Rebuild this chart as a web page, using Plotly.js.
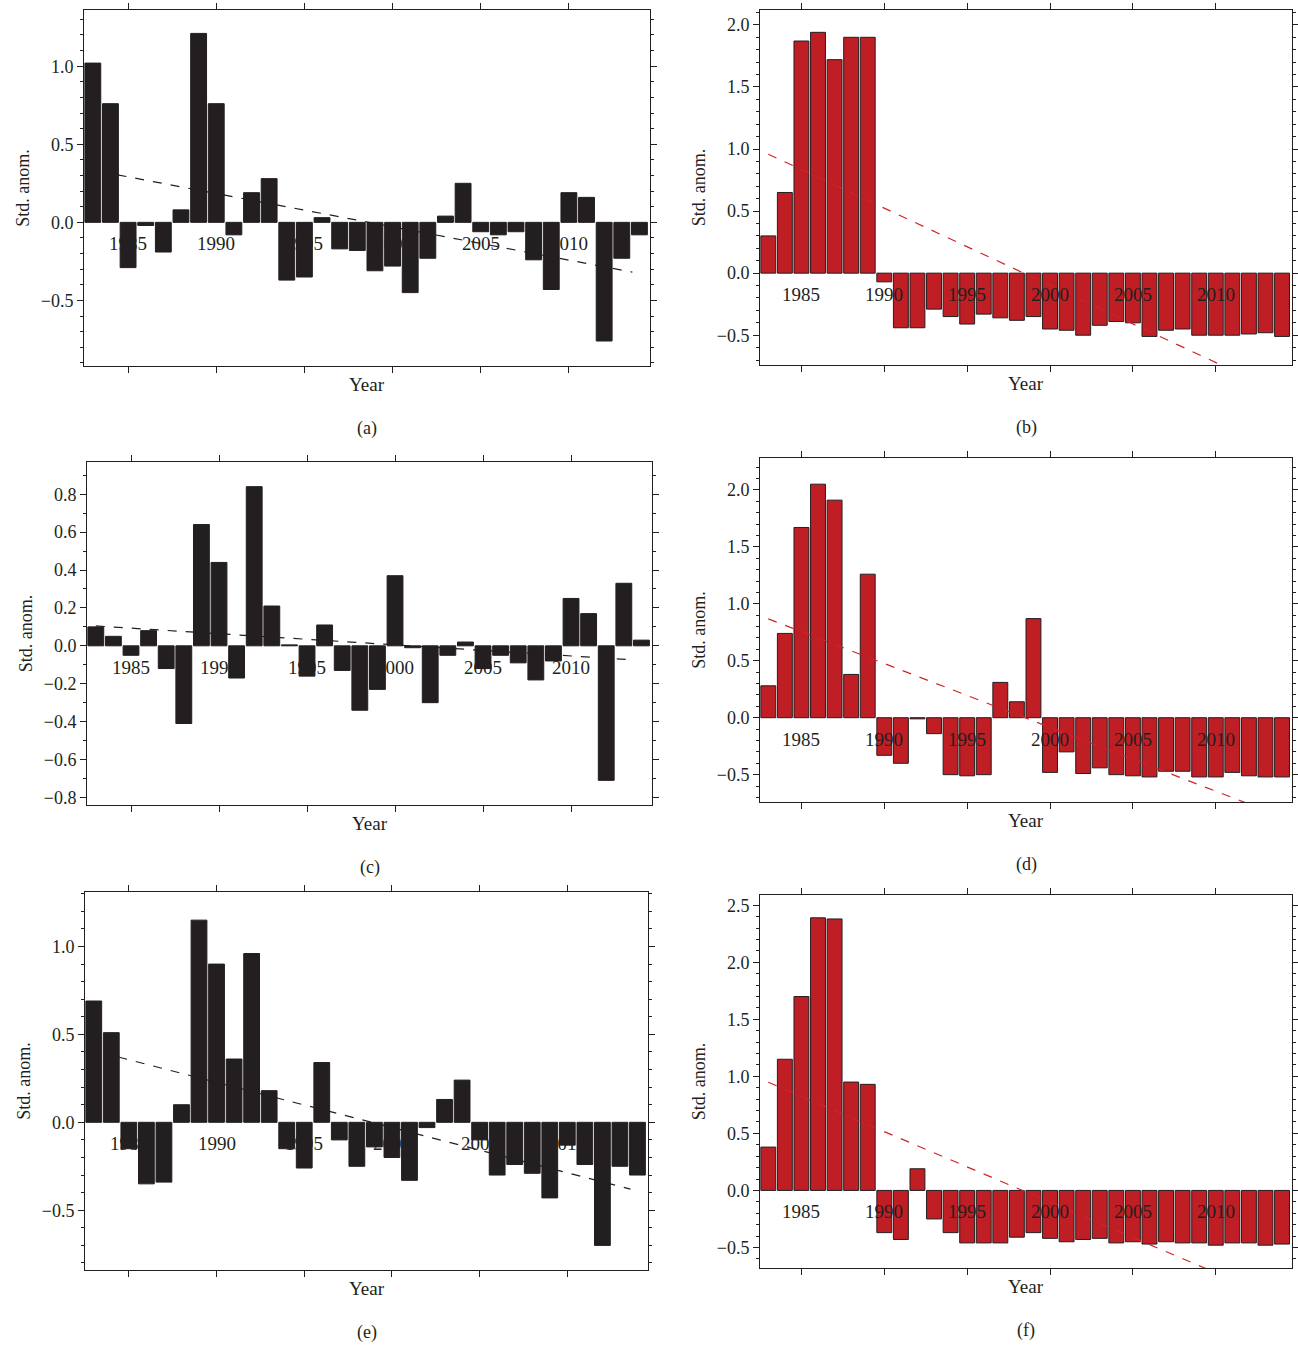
<!DOCTYPE html>
<html>
<head>
<meta charset="utf-8">
<script src="https://cdn.plot.ly/plotly-3.0.1.min.js"></script>
<style>body{margin:0;background:#fff}#chart{width:1298px;height:1346px}</style>
</head>
<body>
<div id="chart"></div>
<script>
// Standardized anomalies, 1983-2014, six panels
const years = Array.from({length: 32}, (_, i) => 1983 + i);
const yearTicks = [1985, 1990, 1995, 2000, 2005, 2010];

const seriesA = [1.02,0.76,-0.29,-0.02,-0.19,0.08,1.21,0.76,-0.08,0.19,0.28,-0.37,-0.35,0.03,-0.17,-0.18,
                 -0.31,-0.28,-0.45,-0.23,0.04,0.25,-0.06,-0.08,-0.06,-0.24,-0.43,0.19,0.16,-0.76,-0.23,-0.08];
const seriesB = [0.30,0.65,1.87,1.94,1.72,1.90,1.90,-0.07,-0.44,-0.44,-0.29,-0.35,-0.41,-0.33,-0.36,-0.38,
                 -0.35,-0.45,-0.46,-0.50,-0.42,-0.39,-0.40,-0.51,-0.46,-0.45,-0.50,-0.50,-0.50,-0.49,-0.48,-0.51];
const seriesC = [0.10,0.05,-0.05,0.08,-0.12,-0.41,0.64,0.44,-0.17,0.84,0.21,0.005,-0.16,0.11,-0.13,-0.34,
                 -0.23,0.37,-0.01,-0.30,-0.05,0.02,-0.12,-0.05,-0.09,-0.18,-0.08,0.25,0.17,-0.71,0.33,0.03];
const seriesD = [0.28,0.74,1.67,2.05,1.91,0.38,1.26,-0.33,-0.40,-0.01,-0.14,-0.50,-0.51,-0.50,0.31,0.14,
                 0.87,-0.48,-0.30,-0.49,-0.44,-0.50,-0.51,-0.52,-0.47,-0.47,-0.52,-0.52,-0.48,-0.51,-0.52,-0.52];
const seriesE = [0.69,0.51,-0.15,-0.35,-0.34,0.10,1.15,0.90,0.36,0.96,0.18,-0.15,-0.26,0.34,-0.10,-0.25,
                 -0.14,-0.20,-0.33,-0.03,0.13,0.24,-0.10,-0.30,-0.24,-0.29,-0.43,-0.13,-0.24,-0.70,-0.25,-0.30];
const seriesF = [0.38,1.15,1.70,2.39,2.38,0.95,0.93,-0.37,-0.43,0.19,-0.25,-0.37,-0.46,-0.46,-0.46,-0.41,
                 -0.37,-0.42,-0.45,-0.43,-0.42,-0.46,-0.45,-0.47,-0.45,-0.46,-0.46,-0.48,-0.46,-0.46,-0.48,-0.47];

const W = 1298, H = 1346;
const BLACK = "#231f20", RED = "#bf1e24";
const FONT = "Liberation Serif, DejaVu Serif, serif";

// pixel boxes [x0, x1, y0(top), y1(bottom)], y range, tick step, caption
const panels = [
  {y: seriesA, col: BLACK, box: [84, 650, 10, 366],  yr: [-0.92, 1.36], dt: 0.5, lab: "(a)", t0: 1984.4},
  {y: seriesB, col: RED,   box: [760, 1292, 10, 365], yr: [-0.74, 2.12], dt: 0.5, lab: "(b)", t0: 1983},
  {y: seriesC, col: BLACK, box: [87, 652, 462, 805],  yr: [-0.84, 0.97], dt: 0.2, lab: "(c)", t0: 1983},
  {y: seriesD, col: RED,   box: [760, 1292, 458, 802], yr: [-0.74, 2.28], dt: 0.5, lab: "(d)", t0: 1983},
  {y: seriesE, col: BLACK, box: [85, 648, 892, 1270], yr: [-0.84, 1.31], dt: 0.5, lab: "(e)", t0: 1984.4},
  {y: seriesF, col: RED,   box: [760, 1292, 895, 1268], yr: [-0.68, 2.59], dt: 0.5, lab: "(f)", t0: 1983},
];

function fit(xs, ys) {
  const n = xs.length;
  const mx = xs.reduce((a, b) => a + b) / n, my = ys.reduce((a, b) => a + b) / n;
  let sxy = 0, sxx = 0;
  for (let i = 0; i < n; i++) { sxy += (xs[i] - mx) * (ys[i] - my); sxx += (xs[i] - mx) ** 2; }
  const b = sxy / sxx;
  return x => my + b * (x - mx);
}

const traces = [], annotations = [];
const layout = {
  width: W, height: H, margin: {l: 0, r: 0, t: 0, b: 0},
  paper_bgcolor: "#fff", plot_bgcolor: "#fff",
  font: {family: FONT, size: 18, color: "#231f20"},
  showlegend: false, bargap: 0.1,
};

panels.forEach((p, i) => {
  const k = i + 1, xa = "x" + (k === 1 ? "" : k), ya = "y" + (k === 1 ? "" : k);
  const [x0, x1, y0, y1] = p.box;
  const axBase = {
    showline: true, linecolor: "#231f20", linewidth: 1, mirror: "ticks",
    ticks: "outside", ticklen: 6, tickcolor: "#231f20", showgrid: false, zeroline: false,
  };
  layout["xaxis" + (k === 1 ? "" : k)] = {
    ...axBase, domain: [x0 / W, x1 / W], anchor: ya, range: [1982.5, 2014.6],
    tickvals: yearTicks, showticklabels: false,
  };
  layout["yaxis" + (k === 1 ? "" : k)] = {
    ...axBase, domain: [1 - y1 / H, 1 - y0 / H], anchor: xa, range: p.yr,
    dtick: p.dt, tick0: 0, tickformat: ".1f", tickfont: {size: 18},
    minor: {ticks: "outside", ticklen: 3, dtick: p.dt / (p.dt < 0.5 ? 2 : 5), tickcolor: "#231f20"},
    title: {text: "Std. anom.", font: {size: 18}, standoff: 6},
  };
  traces.push({
    type: "bar", x: years, y: p.y, xaxis: xa, yaxis: ya, width: 0.9,
    marker: {color: p.col, line: {color: "#231f20", width: 1}},
  });
  const f = fit(years, p.y);
  const tx = [p.t0, 2013.6];
  traces.push({
    type: "scatter", mode: "lines", x: tx, y: tx.map(f), xaxis: xa, yaxis: ya,
    line: {color: p.col === RED ? "#d2232a" : "#231f20", width: 1.2, dash: "dash"},
  });
  yearTicks.forEach(t => annotations.push({
    x: t, y: 0, xref: xa, yref: ya, text: String(t), showarrow: false,
    yanchor: "top", yshift: -9, font: {size: 19},
  }));
  annotations.push({
    x: (x0 + x1) / 2 / W, y: 1 - (y1 + 6) / H, xref: "paper", yref: "paper",
    text: "Year", showarrow: false, xanchor: "center", yanchor: "top", font: {size: 19},
  });
  annotations.push({
    x: (x0 + x1) / 2 / W, y: 1 - (y1 + 50) / H, xref: "paper", yref: "paper",
    text: p.lab, showarrow: false, xanchor: "center", yanchor: "top", font: {size: 18},
  });
});
layout.annotations = annotations;

Plotly.newPlot("chart", traces, layout, {displayModeBar: false, staticPlot: true});
</script>
</body>
</html>
